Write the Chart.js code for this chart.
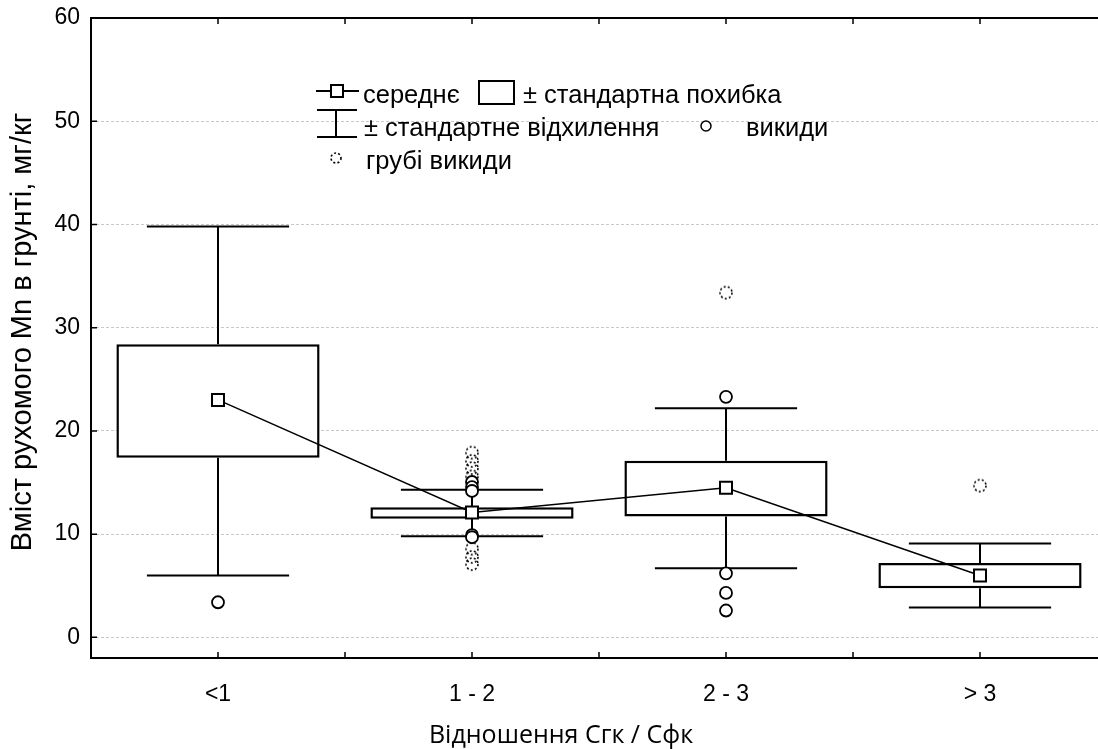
<!DOCTYPE html>
<html>
<head>
<meta charset="utf-8">
<script src="https://cdn.jsdelivr.net/npm/chart.js@4.4.1/dist/chart.umd.min.js"></script>
<style>
  html, body { margin: 0; padding: 0; background: #fff; overflow: hidden; }
  canvas { display: block; }
</style>
</head>
<body>
<canvas id="chart" width="1098" height="749"></canvas>
<script>
// values
const categories = ['<1', '1 - 2', '2 - 3', '> 3'];
const meanValues = [23.0, 12.1, 14.5, 6.0];
const seLow  = [17.4, 11.5, 11.7, 4.75];
const seHigh = [28.4, 12.6, 17.1, 7.2];
const sdLow  = [6.0, 9.8, 6.7, 2.9];
const sdHigh = [39.8, 14.3, 22.2, 9.1];
const outliers = [[3.4], [15.05, 14.56, 14.18, 9.9, 9.7], [23.3, 6.2, 4.3, 2.6], []];
const extremes = [[], [17.9, 17.1, 16.4, 15.6, 8.6, 7.8, 7.1], [33.4], [14.7]];
const yTicks = [0, 10, 20, 30, 40, 50, 60];

const xTitle = 'Відношення Сгк / Сфк';
const yTitle = 'Вміст рухомого Mn в грунті, мг/кг';

const toPoints = lists => categories.flatMap((c, i) => lists[i].map(v => ({ x: c, y: v })));

// dotted ring used for the extreme outliers
function dottedRing(r) {
    const s = r * 2 + 4;
    const cv = document.createElement('canvas');
    cv.width = s; cv.height = s;
    const g = cv.getContext('2d');
    g.strokeStyle = '#000';
    g.lineWidth = 1.6;
    g.setLineDash([2, 2.2]);
    g.beginPath();
    g.arc(s / 2, s / 2, r, 0, Math.PI * 2);
    g.stroke();
    return cv;
}
const ringImg = dottedRing(6);
const ringSmall = dottedRing(5);

// the x axis runs a little past the right edge of the picture
const stretchX = {
    id: 'stretchX',
    afterLayout(chart) {
        const x = chart.scales.x;
        x.right += 9;
        x.width += 9;
        x.configure();
    }
};

const whiskers = {
    id: 'whiskers',
    afterDatasetDraw(chart, args) {
        if (args.index !== 0) return;
        const { ctx, scales: { x, y } } = chart;
        const half = x.width / categories.length * 0.28;
        ctx.save();
        ctx.strokeStyle = '#000';
        ctx.lineWidth = 2;
        categories.forEach((c, i) => {
            const px = x.getPixelForValue(i);
            ctx.beginPath();
            ctx.moveTo(px, y.getPixelForValue(seHigh[i]));
            ctx.lineTo(px, y.getPixelForValue(sdHigh[i]));
            ctx.moveTo(px, y.getPixelForValue(seLow[i]));
            ctx.lineTo(px, y.getPixelForValue(sdLow[i]));
            ctx.moveTo(px - half, y.getPixelForValue(sdHigh[i]));
            ctx.lineTo(px + half, y.getPixelForValue(sdHigh[i]));
            ctx.moveTo(px - half, y.getPixelForValue(sdLow[i]));
            ctx.lineTo(px + half, y.getPixelForValue(sdLow[i]));
            ctx.stroke();
        });
        ctx.restore();
    }
};

const frame = {
    id: 'frame',
    afterDraw(chart) {
        const { ctx, chartArea: a, scales: { x, y } } = chart;
        ctx.save();
        ctx.strokeStyle = '#000';
        ctx.lineWidth = 2;
        ctx.beginPath();
        ctx.moveTo(x.right, a.top);
        ctx.lineTo(a.left, a.top);
        ctx.lineTo(a.left, a.bottom);
        ctx.lineTo(x.right, a.bottom);
        ctx.stroke();

        // inward tick marks
        ctx.lineWidth = 1.5;
        ctx.beginPath();
        yTicks.forEach(v => {
            const py = y.getPixelForValue(v);
            ctx.moveTo(a.left, py);
            ctx.lineTo(a.left + 6, py);
        });
        const step = x.width / categories.length;
        for (let k = 0; k <= categories.length * 2; k++) {
            const px = x.left + k * step / 2;
            ctx.moveTo(px, a.bottom);
            ctx.lineTo(px, a.bottom - 6);
            ctx.moveTo(px, a.top);
            ctx.lineTo(px, a.top + 6);
        }
        ctx.stroke();

        // axis titles
        ctx.fillStyle = '#000';
        ctx.textAlign = 'center';
        ctx.textBaseline = 'alphabetic';
        ctx.font = '25px "Open Sans", sans-serif';
        ctx.fillText(xTitle, 561, 743);
        ctx.save();
        ctx.translate(31, 332);
        ctx.rotate(-Math.PI / 2);
        ctx.font = '29px "Liberation Sans", Arial, sans-serif';
        ctx.fillText(yTitle, 0, 0);
        ctx.restore();

        // legend
        ctx.textAlign = 'left';
        ctx.lineWidth = 2;
        ctx.fillStyle = '#fff';
        ctx.beginPath();
        ctx.moveTo(316, 91); ctx.lineTo(359, 91);
        ctx.stroke();
        ctx.fillRect(331, 85, 12, 12);
        ctx.strokeRect(331, 85, 12, 12);
        ctx.strokeRect(479, 81, 35, 23);

        ctx.beginPath();
        ctx.moveTo(317, 110); ctx.lineTo(357, 110);
        ctx.moveTo(336, 110); ctx.lineTo(336, 137);
        ctx.moveTo(317, 137); ctx.lineTo(357, 137);
        ctx.stroke();

        ctx.lineWidth = 1.5;
        ctx.beginPath();
        ctx.arc(706, 126, 5, 0, Math.PI * 2);
        ctx.stroke();
        ctx.drawImage(ringSmall, 336 - ringSmall.width / 2, 158 - ringSmall.height / 2);

        ctx.fillStyle = '#000';
        ctx.font = '25.5px "Liberation Sans", Arial, sans-serif';
        ctx.fillText('середнє', 363, 103);
        ctx.fillText('± стандартна похибка', 523, 103);
        ctx.fillText('± стандартне відхилення', 364, 136);
        ctx.fillText('викиди', 746, 136);
        ctx.fillText('грубі викиди', 366, 169);
        ctx.restore();
    }
};

const ctx = document.getElementById('chart').getContext('2d');
new Chart(ctx, {
    data: {
        labels: categories,
        datasets: [
            {
                type: 'bar',
                data: categories.map((c, i) => [seLow[i], seHigh[i]]),
                backgroundColor: '#fff',
                borderColor: '#000',
                borderWidth: 2.5,
                borderSkipped: false,
                barPercentage: 0.8,
                categoryPercentage: 1.0,
                order: 5
            },
            {
                type: 'line',
                data: toPoints(extremes),
                showLine: false,
                pointStyle: ringImg,
                order: 3
            },
            {
                type: 'line',
                data: toPoints(outliers),
                showLine: false,
                pointStyle: 'circle',
                pointRadius: 6,
                pointBorderWidth: 1.8,
                pointBorderColor: '#000',
                pointBackgroundColor: '#fff',
                order: 2
            },
            {
                type: 'line',
                data: meanValues,
                borderColor: '#000',
                borderWidth: 1.5,
                pointStyle: 'rect',
                pointRadius: 8.5,
                pointBorderWidth: 2,
                pointBorderColor: '#000',
                pointBackgroundColor: '#fff',
                order: 1
            }
        ]
    },
    options: {
        responsive: false,
        animation: false,
        devicePixelRatio: 1,
        layout: { padding: 0, autoPadding: false },
        plugins: { legend: { display: false }, tooltip: { enabled: false } },
        scales: {
            x: {
                type: 'category',
                offset: true,
                grid: { display: false },
                border: { display: false },
                ticks: { color: '#000', padding: 15, font: { family: '"Liberation Sans", Arial', size: 23 } },
                afterFit(s) { s.height = 91; s.paddingLeft = 0; s.paddingRight = 0; }
            },
            y: {
                min: -2,
                max: 60,
                afterBuildTicks(s) { s.ticks = yTicks.map(v => ({ value: v })); },
                grid: { color: '#c8c8c8', lineWidth: 1, drawTicks: false },
                border: { display: false, dash: [3, 2] },
                ticks: { color: '#000', padding: 11, font: { family: '"Liberation Sans", Arial', size: 23 } },
                afterFit(s) { s.width = 91; s.paddingTop = 18; s.paddingBottom = 0; }
            }
        }
    },
    plugins: [stretchX, whiskers, frame]
});
</script>
</body>
</html>
